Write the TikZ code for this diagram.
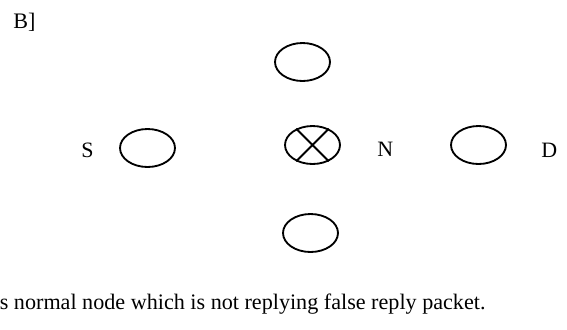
\documentclass[tikz,border=0pt]{standalone}
\usepackage{fontspec}
\setmainfont{Liberation Serif}
\usetikzlibrary{shapes.geometric}
\tikzset{
  x=0.02cm, y=-0.02cm,
  every node/.style={inner sep=0pt,text=black},
  peer/.style={ellipse,draw,line width=1.05pt,minimum width=1.1cm,minimum height=0.76cm},
  lbl/.style={font=\fontsize{12.5}{15}\selectfont,anchor=base west},
  cross/.style={line width=1.05pt},
  caption/.style={font=\fontsize{12.6}{15}\selectfont,anchor=base west},
}
\begin{document}
\begin{tikzpicture}
\useasboundingbox (0,0) rectangle (567,329);

% ---------- nodes ----------
\node[peer] (top) at (302.5,62) {};
\node[peer] (mid) at (312.5,145) {};
\node[peer] (bot) at (310.5,233) {};
\node[peer] (src) at (147.5,148) {};
\node[peer] (dst) at (478.5,145) {};
\draw[cross] (mid.45) -- (mid.225) (mid.135) -- (mid.315);

% ---------- labels ----------
\node[caption] (tag) at (13,28) {B]};
\node[lbl] (s) at (81,157) {S};
\node[lbl] (n) at (377,156) {N};
\node[lbl] (d) at (541,157) {D};
\node[caption] (note) at (-0.5,309) {s normal node which is not replying false reply packet.};
\end{tikzpicture}
\end{document}
